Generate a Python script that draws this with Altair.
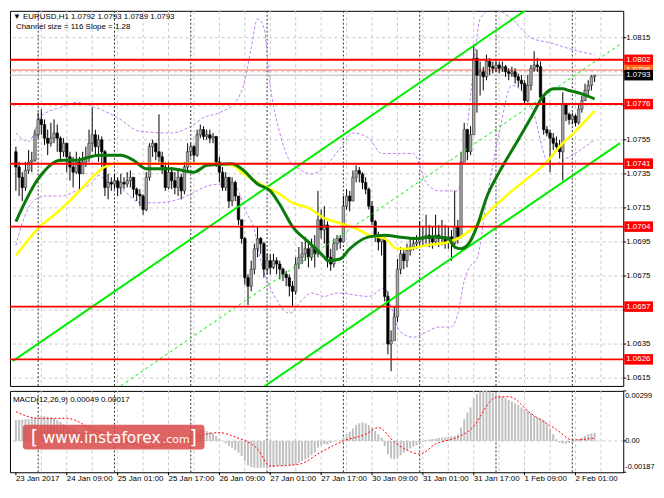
import altair as alt
import pandas as pd
import numpy as np

# ---------------- data ----------------
time_labels = ["23 Jan 2017", "24 Jan 09:00", "25 Jan 01:00", "25 Jan 17:00", "26 Jan 09:00",
               "27 Jan 01:00", "27 Jan 17:00", "30 Jan 09:00", "31 Jan 01:00", "31 Jan 17:00",
               "1 Feb 09:00", "2 Feb 01:00"]
time_label_bars = [0, 16, 32, 48, 64, 80, 96, 112, 128, 144, 160, 176]
day_separator_bars = [7, 31, 55, 79, 103, 127, 151, 175]
grid_bars = [8, 16, 24, 32, 40, 48, 56, 64, 72, 80, 88, 96, 104, 112, 120, 128, 136, 144,
             152, 160, 168, 176, 184]
price_ticks = [1.0615, 1.0635, 1.0655, 1.0675, 1.0695, 1.0715, 1.0735, 1.0755, 1.0775, 1.0795, 1.0815]
# tick labels that are not hidden behind the level tags
price_tick_labels_shown = [1.0615, 1.0635, 1.0675, 1.0695, 1.0715, 1.0735, 1.0755, 1.0815]
macd_ticks = [0.00299, 0.0, -0.00187]
macd_tick_labels = ["0.00299", "0.00", "-0.00187"]

first_open = 1.0748
close_prices = [
    1.0739, 1.0733, 1.0727, 1.0737, 1.0742, 1.0743, 1.0758, 1.0767, 1.0764, 1.0756,
    1.0753, 1.0756, 1.0759, 1.0756, 1.0748, 1.0753, 1.0745, 1.0739, 1.0736, 1.0742,
    1.0735, 1.0742, 1.0745, 1.0753, 1.0758, 1.0751, 1.0755, 1.0748, 1.0727, 1.0730,
    1.0729, 1.0731, 1.0727, 1.0730, 1.0729, 1.0731, 1.0733, 1.0726, 1.0723, 1.0722,
    1.0714, 1.0733, 1.0751, 1.0753, 1.0748, 1.0745, 1.0739, 1.0727, 1.0736, 1.0731,
    1.0727, 1.0733, 1.0725, 1.0739, 1.0748, 1.0751, 1.0746, 1.0758, 1.0761, 1.0757,
    1.0758, 1.0756, 1.0757, 1.0742, 1.0736, 1.0727, 1.0733, 1.0719, 1.0730, 1.0722,
    1.0708, 1.0697, 1.0674, 1.0669, 1.0679, 1.0691, 1.0697, 1.0694, 1.0679, 1.0684,
    1.0680, 1.0684, 1.0682, 1.0679, 1.0676, 1.0674, 1.0669, 1.0666, 1.0682, 1.0686,
    1.0688, 1.0691, 1.0686, 1.0692, 1.0688, 1.0708, 1.0702, 1.0705, 1.0686, 1.0682,
    1.0694, 1.0697, 1.0695, 1.0716, 1.0722, 1.0719, 1.0733, 1.0737, 1.0735, 1.0730,
    1.0726, 1.0716, 1.0707, 1.0698, 1.0695, 1.0697, 1.0663, 1.0635, 1.0637, 1.0651,
    1.0679, 1.0688, 1.0684, 1.0690, 1.0692, 1.0694, 1.0695, 1.0697, 1.0698, 1.0699,
    1.0697, 1.0695, 1.0699, 1.0697, 1.0698, 1.0695, 1.0698, 1.0694, 1.0704, 1.0698,
    1.0742, 1.0761, 1.0748, 1.0758, 1.0803, 1.0793, 1.0795, 1.0792, 1.0801, 1.0798,
    1.0797, 1.0799, 1.0797, 1.0798, 1.0795, 1.0794, 1.0795, 1.0792, 1.0790, 1.0788,
    1.0778, 1.0787, 1.0797, 1.0799, 1.0798, 1.0780, 1.0761, 1.0759, 1.0756, 1.0753,
    1.0751, 1.0748, 1.0776, 1.0770, 1.0767, 1.0769, 1.0765, 1.0773, 1.0778, 1.0784,
    1.0787, 1.0792, 1.0793]
high_prices = [
    1.0751, 1.0742, 1.0736, 1.0742, 1.0749, 1.0748, 1.0761, 1.0771, 1.0773, 1.0767,
    1.0761, 1.0765, 1.0767, 1.0764, 1.0757, 1.0756, 1.0753, 1.0748, 1.0745, 1.0748,
    1.0745, 1.0748, 1.0751, 1.0761, 1.0774, 1.0761, 1.0758, 1.0757, 1.0749, 1.0735,
    1.0733, 1.0735, 1.0733, 1.0735, 1.0733, 1.0736, 1.0737, 1.0733, 1.0727, 1.0726,
    1.0723, 1.0736, 1.0753, 1.0755, 1.0753, 1.0770, 1.0748, 1.0742, 1.0742, 1.0739,
    1.0736, 1.0737, 1.0735, 1.0742, 1.0753, 1.0753, 1.0752, 1.0761, 1.0764, 1.0763,
    1.0761, 1.0761, 1.0759, 1.0756, 1.0745, 1.0739, 1.0736, 1.0730, 1.0733, 1.0731,
    1.0722, 1.0708, 1.0698, 1.0676, 1.0684, 1.0694, 1.0704, 1.0698, 1.0695, 1.0688,
    1.0688, 1.0688, 1.0686, 1.0684, 1.0680, 1.0678, 1.0676, 1.0672, 1.0686, 1.0692,
    1.0695, 1.0698, 1.0694, 1.0697, 1.0699, 1.0725, 1.0714, 1.0716, 1.0707, 1.0691,
    1.0697, 1.0699, 1.0699, 1.0722, 1.0726, 1.0725, 1.0737, 1.0740, 1.0739, 1.0736,
    1.0733, 1.0727, 1.0719, 1.0708, 1.0701, 1.0699, 1.0698, 1.0666, 1.0643, 1.0657,
    1.0685, 1.0692, 1.0691, 1.0694, 1.0697, 1.0698, 1.0699, 1.0707, 1.0704, 1.0711,
    1.0705, 1.0704, 1.0711, 1.0705, 1.0708, 1.0705, 1.0704, 1.0702, 1.0725, 1.0708,
    1.0748, 1.0765, 1.0756, 1.0763, 1.0811, 1.0808, 1.0801, 1.0798, 1.0805, 1.0803,
    1.0801, 1.0802, 1.0801, 1.0801, 1.0799, 1.0797, 1.0798, 1.0797, 1.0794, 1.0793,
    1.0790, 1.0793, 1.0799, 1.0807, 1.0803, 1.0801, 1.0781, 1.0763, 1.0761, 1.0759,
    1.0757, 1.0755, 1.0783, 1.0776, 1.0771, 1.0771, 1.0770, 1.0776, 1.0781, 1.0788,
    1.0790, 1.0793, 1.0793]
low_prices = [
    1.0725, 1.0722, 1.0719, 1.0725, 1.0735, 1.0736, 1.0742, 1.0756, 1.0758, 1.0752,
    1.0746, 1.0751, 1.0753, 1.0748, 1.0742, 1.0745, 1.0736, 1.0731, 1.0727, 1.0735,
    1.0725, 1.0736, 1.0739, 1.0742, 1.0748, 1.0745, 1.0742, 1.0739, 1.0722, 1.0720,
    1.0725, 1.0726, 1.0722, 1.0723, 1.0726, 1.0727, 1.0727, 1.0721, 1.0719, 1.0716,
    1.0711, 1.0713, 1.0731, 1.0745, 1.0743, 1.0742, 1.0735, 1.0725, 1.0726, 1.0726,
    1.0723, 1.0722, 1.0720, 1.0723, 1.0737, 1.0745, 1.0742, 1.0745, 1.0756, 1.0755,
    1.0755, 1.0753, 1.0753, 1.0739, 1.0730, 1.0725, 1.0725, 1.0715, 1.0716, 1.0719,
    1.0705, 1.0694, 1.0670, 1.0658, 1.0666, 1.0676, 1.0686, 1.0688, 1.0674, 1.0676,
    1.0676, 1.0679, 1.0676, 1.0673, 1.0672, 1.0669, 1.0663, 1.0657, 1.0664, 1.0679,
    1.0682, 1.0684, 1.0680, 1.0684, 1.0680, 1.0686, 1.0697, 1.0694, 1.0680, 1.0678,
    1.0680, 1.0690, 1.0691, 1.0711, 1.0714, 1.0713, 1.0722, 1.0730, 1.0730, 1.0726,
    1.0723, 1.0714, 1.0705, 1.0695, 1.0690, 1.0687, 1.0660, 1.0629, 1.0619, 1.0637,
    1.0648, 1.0676, 1.0679, 1.0680, 1.0687, 1.0690, 1.0691, 1.0692, 1.0693, 1.0694,
    1.0692, 1.0691, 1.0693, 1.0692, 1.0693, 1.0691, 1.0691, 1.0684, 1.0691, 1.0694,
    1.0697, 1.0742, 1.0743, 1.0746, 1.0758, 1.0771, 1.0781, 1.0784, 1.0790, 1.0793,
    1.0794, 1.0795, 1.0794, 1.0795, 1.0792, 1.0790, 1.0792, 1.0788, 1.0786, 1.0784,
    1.0776, 1.0777, 1.0784, 1.0795, 1.0795, 1.0778, 1.0758, 1.0757, 1.0736, 1.0749,
    1.0748, 1.0744, 1.0731, 1.0766, 1.0764, 1.0764, 1.0763, 1.0764, 1.0771, 1.0778,
    1.0781, 1.0784, 1.0789]

green_ma_bars = [0, 7, 14, 19, 26, 29, 33, 37, 41, 49, 56, 60, 68, 71, 76, 80, 83, 87, 92, 97,
                 98, 102, 105, 111, 116, 120, 126, 131, 136, 138, 140, 142, 145, 148, 152, 158,
                 162, 166, 169, 172, 174, 178, 182]
green_ma = [1.0707, 1.0732, 1.0743, 1.0743, 1.0746, 1.0746, 1.0746, 1.0743, 1.0738, 1.0738,
            1.0736, 1.0740, 1.0741, 1.0738, 1.0729, 1.0725, 1.0717, 1.0704, 1.0695, 1.0686,
            1.0684, 1.0685, 1.0691, 1.0698, 1.0699, 1.0698, 1.0697, 1.0698, 1.0697, 1.0692,
            1.0691, 1.0693, 1.0704, 1.0721, 1.0736, 1.0755, 1.0768, 1.0781, 1.0785, 1.0785,
            1.0784, 1.0782, 1.0779]
yellow_ma_bars = [0, 7, 14, 20, 24, 27, 31, 34, 49, 62, 68, 71, 74, 77, 83, 87, 92, 97, 102, 108,
                  111, 116, 120, 123, 129, 136, 140, 143, 150, 156, 162, 167, 171, 176, 182]
yellow_ma = [1.0687, 1.0703, 1.0714, 1.0725, 1.0733, 1.0738, 1.0741, 1.0741, 1.0741, 1.0741,
             1.0740, 1.0736, 1.0732, 1.0729, 1.0723, 1.0718, 1.0715, 1.0709, 1.0706, 1.0702,
             1.0699, 1.0697, 1.0691, 1.0691, 1.0693, 1.0695, 1.0698, 1.0702, 1.0715, 1.0725,
             1.0734, 1.0742, 1.0751, 1.0760, 1.0772]

band_upper_bars = [0, 4, 8, 14, 19, 25, 32, 39, 49, 55, 59, 64, 69, 72, 74, 76, 78, 80, 83, 86,
                   89, 93, 97, 102, 106, 111, 115, 120, 125, 129, 133, 139, 141, 144, 146, 150,
                   156, 162, 168, 177, 182]
band_upper = [1.0759, 1.0754, 1.0769, 1.0774, 1.0777, 1.0774, 1.0768, 1.0760, 1.0759, 1.0763,
              1.0768, 1.0771, 1.0777, 1.0790, 1.0809, 1.0826, 1.0821, 1.0787, 1.0759, 1.0743,
              1.0738, 1.0735, 1.0739, 1.0750, 1.0759, 1.0756, 1.0747, 1.0747, 1.0747, 1.0730,
              1.0725, 1.0725, 1.0747, 1.0798, 1.0826, 1.0832, 1.0826, 1.0815, 1.0812, 1.0807,
              1.0805]
band_lower_bars = [0, 2, 5, 9, 14, 19, 24, 26, 29, 34, 39, 44, 49, 55, 59, 64, 69, 72, 75, 77,
                   80, 82, 86, 90, 93, 97, 101, 111, 116, 118, 121, 125, 129, 133, 137, 139,
                   141, 143, 145, 148, 152, 156, 162, 168, 174, 182]
band_lower = [1.0693, 1.0706, 1.0718, 1.0722, 1.0722, 1.0725, 1.0730, 1.0734, 1.0730, 1.0725,
              1.0718, 1.0718, 1.0719, 1.0723, 1.0727, 1.0729, 1.0728, 1.0714, 1.0702, 1.0684,
              1.0668, 1.0661, 1.0653, 1.0661, 1.0665, 1.0663, 1.0665, 1.0663, 1.0668, 1.0657,
              1.0642, 1.0639, 1.0642, 1.0645, 1.0645, 1.0653, 1.0672, 1.0681, 1.0685, 1.0719,
              1.0759, 1.0787, 1.0775, 1.0740, 1.0745, 1.0755]

channel_bars = [-1, 190]
channel_upper = [1.06250, 1.08691]
channel_mid = [1.05670, 1.08111]
channel_lower = [1.05090, 1.07531]

level_prices = [1.0802, 1.0776, 1.0741, 1.0704, 1.0657, 1.0626]
ask_price = 1.0796
bid_price = 1.0793

macd_hist = [
    0.00125, 0.00125, 0.00128, 0.00130, 0.00130, 0.00135, 0.00140, 0.00145, 0.00147, 0.00147,
    0.00145, 0.00140, 0.00135, 0.00125, 0.00115, 0.00100, 0.00090, 0.00080, 0.00070, 0.00060,
    0.00055, 0.00050, 0.00050, 0.00045, 0.00045, 0.00040, 0.00035, 0.00025, 0.00015, 0.00005,
    -0.00010, -0.00015, -0.00020, -0.00022, -0.00025, -0.00025, -0.00022, -0.00020, -0.00015, -0.00015,
    -0.00018, -0.00010, 0.00000, 0.00005, 0.00008, 0.00010, 0.00012, 0.00010, 0.00008, 0.00005,
    0.00005, 0.00008, 0.00015, 0.00025, 0.00035, 0.00045, 0.00055, 0.00060, 0.00065, 0.00065,
    0.00060, 0.00055, 0.00045, 0.00030, 0.00015, 0.00000, -0.00015, -0.00030, -0.00040, -0.00055,
    -0.00070, -0.00090, -0.00120, -0.00145, -0.00155, -0.00160, -0.00162, -0.00160, -0.00158, -0.00160,
    -0.00158, -0.00155, -0.00150, -0.00150, -0.00148, -0.00145, -0.00145, -0.00145, -0.00140, -0.00130,
    -0.00120, -0.00110, -0.00100, -0.00085, -0.00070, -0.00040, -0.00025, -0.00020, -0.00020, -0.00010,
    -0.00005, 0.00000, 0.00005, 0.00020, 0.00040, 0.00055, 0.00075, 0.00095, 0.00105, 0.00110,
    0.00105, 0.00095, 0.00080, 0.00060, 0.00040, 0.00020, -0.00030, -0.00080, -0.00105, -0.00110,
    -0.00100, -0.00085, -0.00070, -0.00055, -0.00045, -0.00035, -0.00025, -0.00015, -0.00005, 0.00005,
    0.00010, 0.00012, 0.00015, 0.00018, 0.00020, 0.00022, 0.00025, 0.00028, 0.00030, 0.00040,
    0.00080, 0.00130, 0.00170, 0.00200, 0.00250, 0.00280, 0.00295, 0.00299, 0.00299, 0.00295,
    0.00290, 0.00285, 0.00275, 0.00265, 0.00255, 0.00245, 0.00235, 0.00225, 0.00215, 0.00200,
    0.00190, 0.00180, 0.00165, 0.00150, 0.00140, 0.00135, 0.00125, 0.00100, 0.00070, 0.00040,
    0.00010, -0.00010, -0.00015, -0.00015, -0.00012, -0.00010, 0.00000, 0.00010, 0.00020, 0.00030,
    0.00040, 0.00045, 0.00049]
signal_bars = [0, 7, 16, 25, 31, 37, 41, 50, 56, 64, 69, 76, 80, 89, 96, 103, 110, 114, 119, 123,
               127, 132, 139, 143, 151, 155, 162, 170, 175, 182]
signal_vals = [0.00175, 0.00135, 0.00135, 0.00062, 0.00023, -0.00018, -0.00036, -0.00006, 0.00023, 0.00050,
               0.00023, -0.00048, -0.00150, -0.00139, -0.00066, 0.00000, 0.00040, 0.00080, -0.00006, -0.00054,
               -0.00078, -0.00018, 0.00023, 0.00068, 0.00260, 0.00265, 0.00164, 0.00068, 0.00006, 0.00017]

# ---------------- layout (whole chart fits inside the 8px page margin) ----------------
W, HM, HD = 618, 378, 82
X_DOM = [-0.3, 189.46]
Y_DOM = [1.06104, 1.08308]
M_DOM = [-0.00187, 0.00299]
FONT = "Liberation Sans"
FS = 8

bar_scale = alt.Scale(domain=X_DOM, nice=False, zero=False)
price_scale = alt.Scale(domain=Y_DOM, nice=False, zero=False)
macd_scale = alt.Scale(domain=M_DOM, nice=False, zero=False)


def X(field="bar"):
    return alt.X(f"{field}:Q", scale=bar_scale, axis=None)


def P(field="price"):
    return alt.Y(f"{field}:Q", scale=price_scale, axis=None)


def M(field="v"):
    return alt.Y(f"{field}:Q", scale=macd_scale, axis=None)


n = len(close_prices)
opens = [first_open] + close_prices[:-1]
candles = pd.DataFrame({"bar": list(range(n)), "open": opens, "close": close_prices,
                        "high": high_prices, "low": low_prices})
candles["hi"] = candles[["high", "open", "close"]].max(axis=1)
candles["lo"] = candles[["low", "open", "close"]].min(axis=1)
candles["up"] = candles["close"] >= candles["open"]

grid_df = pd.DataFrame({"bar": grid_bars})
sep_df = pd.DataFrame({"bar": day_separator_bars})
tick_df = pd.DataFrame({"price": price_ticks})
lab_df = pd.DataFrame({"price": price_tick_labels_shown})
lab_df["label"] = lab_df["price"].map(lambda v: f"{v:.4f}")
one = pd.DataFrame({"a": [0]})

# ---- main panel ----
hgrid = alt.Chart(tick_df).mark_rule(color="#c8c8c8", strokeDash=[3, 3], strokeWidth=1).encode(y=P())
ytick = alt.Chart(tick_df).mark_rule(color="black", strokeWidth=1).encode(
    y=P(), x=alt.value(W), x2=alt.value(W + 3))
ylab = alt.Chart(lab_df).mark_text(align="left", baseline="middle", font=FONT, fontSize=FS,
                                   color="black").encode(x=alt.value(W + 3), y=P(), text="label:N")
vgrid = alt.Chart(grid_df).mark_rule(color="#c8c8c8", strokeDash=[3, 3], strokeWidth=1).encode(x=X())
seps = alt.Chart(sep_df).mark_rule(color="#303030", strokeDash=[2, 2], strokeWidth=1).encode(x=X())

ask_line = alt.Chart(pd.DataFrame({"price": [ask_price]})).mark_rule(color="#ff6040", strokeWidth=1).encode(y=P())
bid_line = alt.Chart(pd.DataFrame({"price": [bid_price]})).mark_rule(color="#b8b8b8", strokeWidth=1).encode(y=P())

up_df = pd.DataFrame({"bar": band_upper_bars, "price": band_upper})
lo_df = pd.DataFrame({"bar": band_lower_bars, "price": band_lower})
band_up = alt.Chart(up_df).mark_line(color="#c080ee", strokeDash=[3, 2], strokeWidth=1, clip=True,
                                     interpolate="monotone").encode(x=X(), y=P())
band_lo = alt.Chart(lo_df).mark_line(color="#c080ee", strokeDash=[3, 2], strokeWidth=1, clip=True,
                                     interpolate="monotone").encode(x=X(), y=P())

wicks = alt.Chart(candles).mark_rule(color="black", strokeWidth=1, clip=True).encode(
    x=X(), y=P("lo"), y2="hi:Q")
bodies_up = alt.Chart(candles).transform_filter("datum.up").mark_bar(
    width=2.5, color="#a8a8a8", stroke="#303030", strokeWidth=0.6, clip=True).encode(
    x=X(), y=P("open"), y2="close:Q")
bodies_dn = alt.Chart(candles).transform_filter("!datum.up").mark_bar(
    width=2.5, color="#000000", stroke="#000000", strokeWidth=0.6, clip=True).encode(
    x=X(), y=P("open"), y2="close:Q")

chan_solid = pd.DataFrame({"bar": channel_bars * 2, "price": channel_upper + channel_lower,
                           "line": ["upper"] * 2 + ["lower"] * 2})
chan_mid = pd.DataFrame({"bar": channel_bars, "price": channel_mid})
chan_lines = alt.Chart(chan_solid).mark_line(color="#00ee00", strokeWidth=2, clip=True).encode(
    x=X(), y=P(), detail="line:N")
chan_dash = alt.Chart(chan_mid).mark_line(color="#00ee00", strokeWidth=1, strokeDash=[3, 3], clip=True).encode(
    x=X(), y=P())

yellow_df = pd.DataFrame({"bar": yellow_ma_bars, "price": yellow_ma})
green_df = pd.DataFrame({"bar": green_ma_bars, "price": green_ma})
yellow_line = alt.Chart(yellow_df).mark_line(color="#ffff00", strokeWidth=2.5, interpolate="monotone",
                                             clip=True).encode(x=X(), y=P())
green_line = alt.Chart(green_df).mark_line(color="#0a7a0a", strokeWidth=3, interpolate="monotone",
                                           clip=True).encode(x=X(), y=P())

lvl_df = pd.DataFrame({"price": level_prices})
lvl_lines = alt.Chart(lvl_df).mark_rule(color="#ff0000", strokeWidth=2).encode(y=P())

half = 0.00031


def tag(prices, fill):
    df = pd.DataFrame({"price": prices})
    df["label"] = df["price"].map(lambda v: f"{v:.4f}")
    df["top"] = df["price"] + half
    df["bot"] = df["price"] - half
    r = alt.Chart(df).mark_rect(color=fill).encode(
        x=alt.value(W + 1), x2=alt.value(W + 30), y=P("top"), y2="bot:Q")
    t = alt.Chart(df).mark_text(align="left", baseline="middle", color="white", font=FONT,
                                fontSize=FS).encode(x=alt.value(W + 3), y=P(), text="label:N")
    return [r, t]


tags = tag(level_prices, "#ff0000") + tag([ask_price], "#ff6a1a") + tag([bid_price], "#000000")

head1 = alt.Chart(one).mark_text(align="left", baseline="middle", font=FONT, fontSize=FS, color="black").encode(
    x=alt.value(3), y=alt.value(6), text=alt.value("\u25bc EURUSD,H1  1.0792 1.0793 1.0789 1.0793"))
head2 = alt.Chart(one).mark_text(align="left", baseline="middle", font=FONT, fontSize=FS, color="black").encode(
    x=alt.value(6), y=alt.value(16), text=alt.value("Channel size = 116 Slope = 1.28"))

main = alt.layer(hgrid, vgrid, seps, ask_line, bid_line, band_up, band_lo, wicks, bodies_up,
                 bodies_dn, chan_lines, chan_dash, yellow_line, green_line, lvl_lines, ytick, ylab,
                 *tags, head1, head2).properties(width=W, height=HM)

# ---- MACD panel ----
macd_df = pd.DataFrame({"bar": list(range(n)), "v": macd_hist})
sig_df = pd.DataFrame({"bar": signal_bars, "v": signal_vals})
mtick_df = pd.DataFrame({"v": macd_ticks, "label": macd_tick_labels})
date_df = pd.DataFrame({"bar": time_label_bars, "label": time_labels})

zero_line = alt.Chart(pd.DataFrame({"v": [0.0]})).mark_rule(
    color="#c8c8c8", strokeDash=[3, 3], strokeWidth=1).encode(y=M())
hist = alt.Chart(macd_df).mark_bar(width=2, color="#c0c0c0", clip=True).encode(
    x=X(), y=M(), y2=alt.datum(0))
vgrid2 = alt.Chart(grid_df).mark_rule(color="#c8c8c8", strokeDash=[3, 3], strokeWidth=1).encode(x=X())
seps2 = alt.Chart(sep_df).mark_rule(color="#303030", strokeDash=[2, 2], strokeWidth=1).encode(x=X())
sig_line = alt.Chart(sig_df).mark_line(color="#ff0000", strokeDash=[2, 2], strokeWidth=1,
                                       interpolate="monotone", clip=True).encode(x=X(), y=M())
mtick = alt.Chart(mtick_df).mark_rule(color="black", strokeWidth=1).encode(
    y=M(), x=alt.value(W), x2=alt.value(W + 3))
mlab_top = alt.Chart(mtick_df.iloc[[0]]).mark_text(align="left", baseline="top", font=FONT, fontSize=7.5,
                                                   color="black", dy=1).encode(
    x=alt.value(W + 2), y=M(), text="label:N")
mlab_mid = alt.Chart(mtick_df.iloc[[1]]).mark_text(align="left", baseline="middle", font=FONT, fontSize=7.5,
                                                   color="black").encode(
    x=alt.value(W + 2), y=M(), text="label:N")
mlab_bot = alt.Chart(mtick_df.iloc[[2]]).mark_text(align="left", baseline="bottom", font=FONT, fontSize=7.5,
                                                   color="black", dy=-1).encode(
    x=alt.value(W + 2), y=M(), text="label:N")
xtick = alt.Chart(date_df).mark_rule(color="black", strokeWidth=1).encode(
    x=X(), y=alt.value(HD), y2=alt.value(HD + 3))
xlab = alt.Chart(date_df).mark_text(align="left", baseline="top", font=FONT, fontSize=FS,
                                    color="black").encode(x=X(), y=alt.value(HD + 3), text="label:N")
mhead = alt.Chart(one).mark_text(align="left", baseline="middle", font=FONT, fontSize=FS, color="black").encode(
    x=alt.value(3), y=alt.value(9), text=alt.value("MACD(12,26,9) 0.00049 0.00017"))

wm_rect = alt.Chart(one).mark_rect(color="#d84a48", opacity=0.85, cornerRadius=3).encode(
    x=alt.value(13), x2=alt.value(196), y=alt.value(34), y2=alt.value(59))
wm_font = "DejaVu Sans"
wm1 = alt.Chart(one).mark_text(align="left", baseline="alphabetic", font=wm_font, fontSize=19, color="white").encode(
    x=alt.value(21), y=alt.value(54), text=alt.value("["))
wm2 = alt.Chart(one).mark_text(align="left", baseline="alphabetic", font=wm_font, fontSize=15.5, color="white").encode(
    x=alt.value(33), y=alt.value(53), text=alt.value("www.instaforex"))
wm3 = alt.Chart(one).mark_text(align="left", baseline="alphabetic", font=wm_font, fontSize=11, color="white").encode(
    x=alt.value(154), y=alt.value(53), text=alt.value(".com"))
wm4 = alt.Chart(one).mark_text(align="left", baseline="alphabetic", font=wm_font, fontSize=19, color="white").encode(
    x=alt.value(181), y=alt.value(54), text=alt.value("]"))

macd = alt.layer(zero_line, vgrid2, seps2, hist, sig_line, mtick, mlab_top, mlab_mid, mlab_bot,
                 xtick, xlab, mhead, wm_rect, wm1, wm2, wm3, wm4).properties(width=W, height=HD)

chart = alt.vconcat(main, macd, spacing=3).properties(
    background="white", padding={"left": 0, "top": 0, "right": 0, "bottom": 0}
).configure_view(stroke="black", strokeWidth=1)

chart.save("out.html", embed_options={"renderer": "svg", "actions": False})
